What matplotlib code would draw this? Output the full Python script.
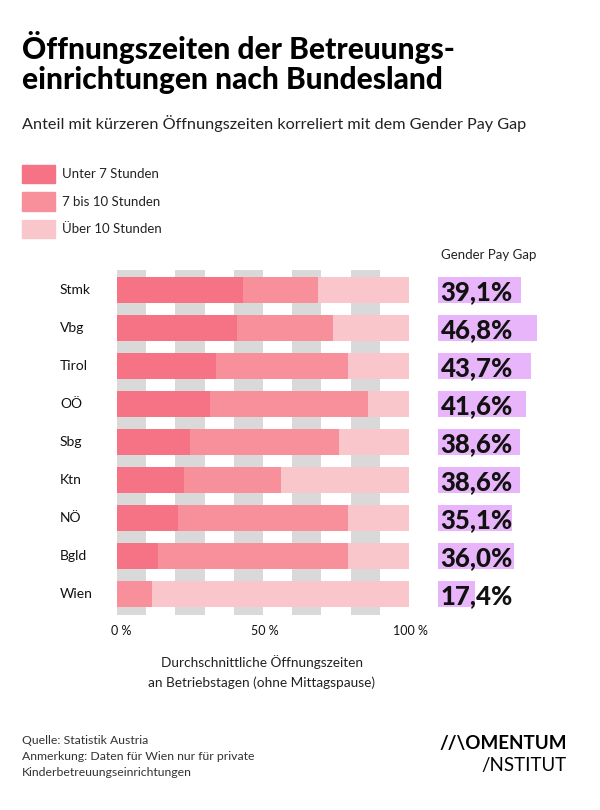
import numpy as np
import matplotlib.pyplot as plt
from matplotlib.patches import Rectangle

plt.rcParams['font.family'] = ['Lato', 'DejaVu Sans']

# data
laender = ['Stmk', 'Vbg', 'Tirol', 'OÖ', 'Sbg', 'Ktn', 'NÖ', 'Bgld', 'Wien']
unter7 = [43, 41, 34, 32, 25, 23, 21, 14, 0]
bis10 = [26, 33, 45, 54, 51, 33, 58, 65, 12]
ueber10 = [31, 26, 21, 14, 24, 44, 21, 21, 88]
paygap = [39.1, 46.8, 43.7, 41.6, 38.6, 38.6, 35.1, 36.0, 17.4]
paygap_labels = ['39,1%', '46,8%', '43,7%', '41,6%', '38,6%', '38,6%', '35,1%', '36,0%', '17,4%']
serien = ['Unter 7 Stunden', '7 bis 10 Stunden', 'Über 10 Stunden']
farben = ['#f57384', '#f8909c', '#f9c6cc']

W, H = 600, 810
fig = plt.figure(figsize=(6, 8.1), dpi=100)

def fx(px):
    return px / W

def fy(py):
    return 1 - py / H

# title + subtitle
fig.text(fx(22), fy(59), 'Öffnungszeiten der Betreuungs-', fontsize=21.5, fontweight='black', va='baseline')
fig.text(fx(22), fy(89), 'einrichtungen nach Bundesland', fontsize=21.5, fontweight='black', va='baseline')
fig.text(fx(22), fy(129), 'Anteil mit kürzeren Öffnungszeiten korreliert mit dem Gender Pay Gap',
         fontsize=11.7, va='baseline', color='#222222')

# legend
for i, (s, c) in enumerate(zip(serien, farben)):
    y0 = 165 + i * 27.5
    fig.patches.append(Rectangle((fx(22), fy(y0 + 18)), fx(33), 18 / H, color=c,
                                 transform=fig.transFigure, figure=fig))
    fig.text(fx(62), fy(y0 + 9), s, fontsize=9.5, va='center', color='#222222')

# main bars
ax = fig.add_axes([fx(117), fy(615), fx(292), 345 / H])
y = np.arange(len(laender))
for x0 in range(0, 100, 20):
    ax.axvspan(x0, x0 + 10, color='#d9d9d9', lw=0, zorder=0)
left = np.zeros(len(laender))
for vals, c in zip([unter7, bis10, ueber10], farben):
    ax.barh(y, vals, left=left, height=0.68, color=c, zorder=2)
    left = left + np.array(vals)
ax.set_xlim(0, 100)
ax.set_ylim(8.55, -0.53)
ax.axis('off')

for i, name in enumerate(laender):
    ax.text(-57 / 2.92, i, name, fontsize=10, va='center', ha='left', color='#111111')
for v, t in zip([0, 50, 100], ['0 %', '50 %', '100 %']):
    ax.text(v + (1.5 if v == 0 else 0.5), 8.97, t, fontsize=9, ha='center', va='center', color='#111111')

fig.text(fx(262), fy(662), 'Durchschnittliche Öffnungszeiten', fontsize=9.8, ha='center', va='center', color='#222222')
fig.text(fx(262), fy(683), 'an Betriebstagen (ohne Mittagspause)', fontsize=9.8, ha='center', va='center', color='#222222')

# gender pay gap
ax2 = fig.add_axes([fx(438), fy(615), fx(160), 345 / H])
ax2.barh(y, paygap, height=0.7, color='#e8b5fa', zorder=1)
ax2.set_xlim(0, 160 / 2.12)
ax2.set_ylim(8.55, -0.53)
ax2.axis('off')
for i, t in enumerate(paygap_labels):
    ax2.text(1.2, i + 0.05, t, fontsize=18.5, fontweight='black', va='center', ha='left', color='#111111')
fig.text(fx(441), fy(255), 'Gender Pay Gap', fontsize=9.5, va='center', color='#222222')

# footer
fig.text(fx(22), fy(740), 'Quelle: Statistik Austria', fontsize=8.8, va='center', color='#333333')
fig.text(fx(22), fy(757), 'Anmerkung: Daten für Wien nur für private', fontsize=8.8, va='center', color='#333333')
fig.text(fx(22), fy(773), 'Kinderbetreuungseinrichtungen', fontsize=8.8, va='center', color='#333333')
fig.text(fx(567), fy(744), '//\\OMENTUM', fontsize=13.5, fontweight='bold', ha='right', va='center')
fig.text(fx(567), fy(766), '/NSTITUT', fontsize=13.5, ha='right', va='center')

fig.savefig('out.png', dpi=100, facecolor='white')
